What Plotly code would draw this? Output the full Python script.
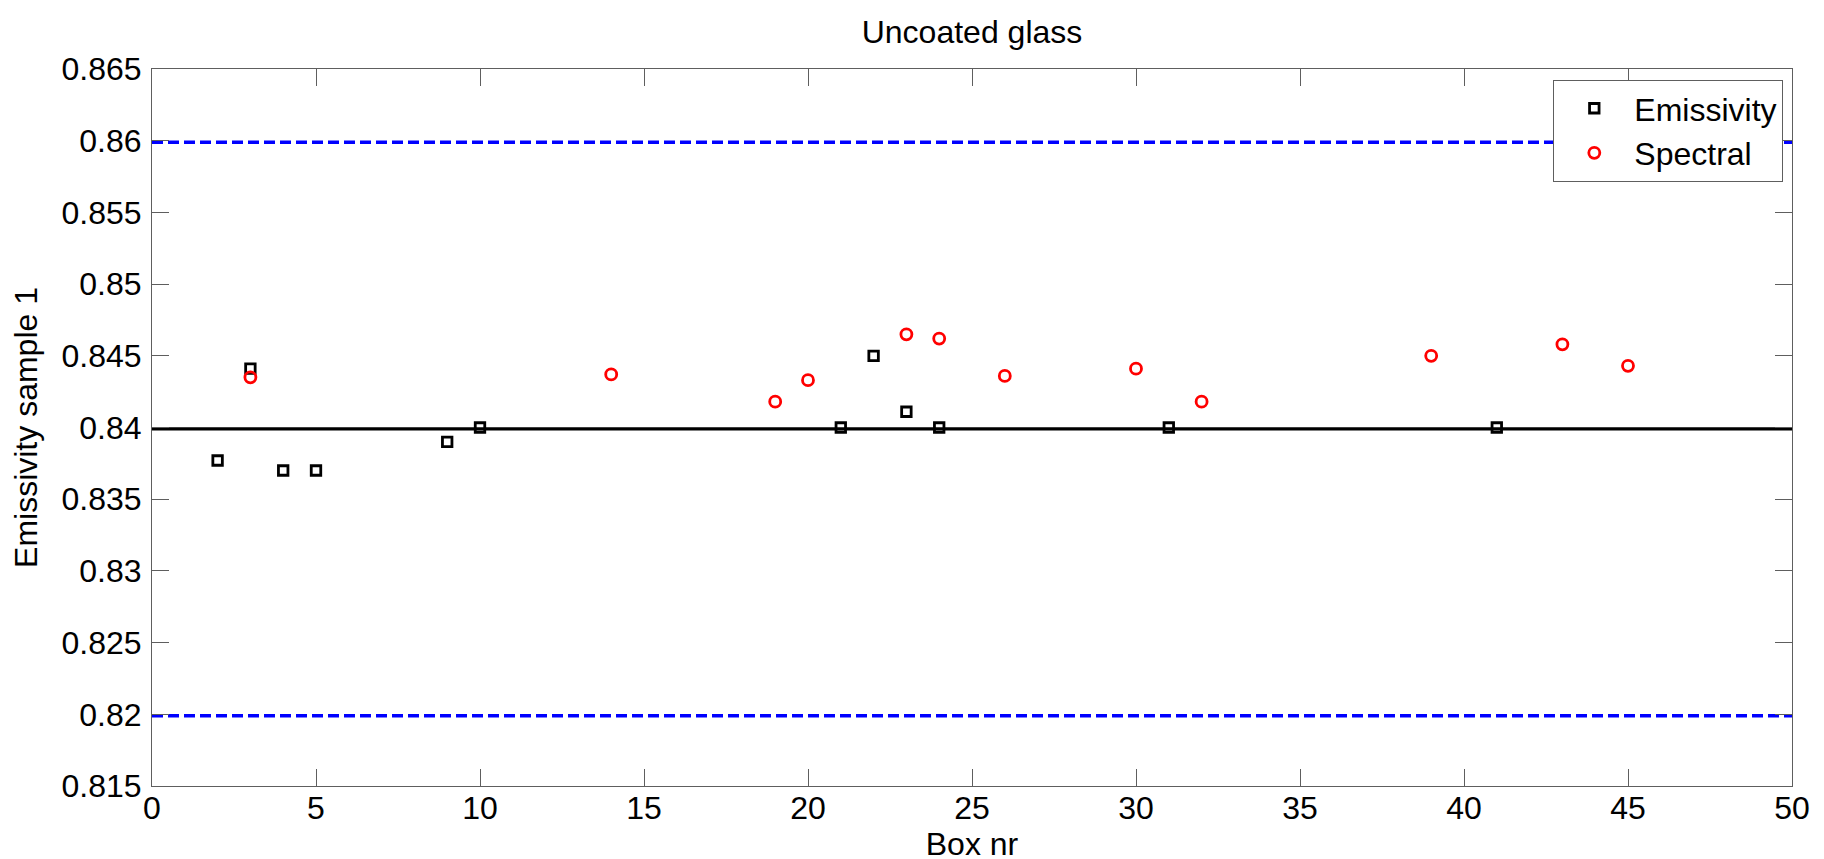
import plotly.graph_objects as go

# ---- data ----
emis_box = [2, 3, 4, 5, 9, 10, 21, 22, 23, 24, 31, 41]
emis_val = [0.8377, 0.8441, 0.8370, 0.8370, 0.8390, 0.8400, 0.8400, 0.8450, 0.8411, 0.8400, 0.8400, 0.8400]

spec_box = [3, 14, 19, 20, 23, 24, 26, 30, 32, 39, 43, 45]
spec_val = [0.8435, 0.8437, 0.8418, 0.8433, 0.8465, 0.8462, 0.8436, 0.8441, 0.8418, 0.8450, 0.8458, 0.8443]

line_x = [0, 50]
mean_level = 0.8399
upper_level = 0.8599
lower_level = 0.8199

x_tickvals = [0, 5, 10, 15, 20, 25, 30, 35, 40, 45, 50]
x_ticktext = ["0", "5", "10", "15", "20", "25", "30", "35", "40", "45", "50"]
y_tickvals = [0.815, 0.82, 0.825, 0.83, 0.835, 0.84, 0.845, 0.85, 0.855, 0.86, 0.865]
y_ticktext = ["0.815", "0.82", "0.825", "0.83", "0.835", "0.84", "0.845", "0.85", "0.855", "0.86", "0.865"]

FONT = "Liberation Sans, Arial, sans-serif"
AX = "#5e5e5e"

fig = go.Figure()

fig.add_trace(go.Scatter(x=line_x, y=[upper_level] * 2, mode="lines",
                         line=dict(color="#0000ff", width=3.5, dash="11px,5px"),
                         showlegend=False, hoverinfo="skip"))
fig.add_trace(go.Scatter(x=line_x, y=[lower_level] * 2, mode="lines",
                         line=dict(color="#0000ff", width=3.5, dash="11px,5px"),
                         showlegend=False, hoverinfo="skip"))
fig.add_trace(go.Scatter(x=line_x, y=[mean_level] * 2, mode="lines",
                         line=dict(color="#000000", width=3.2),
                         showlegend=False, hoverinfo="skip"))

fig.add_trace(go.Scatter(x=emis_box, y=emis_val, mode="markers", name="Emissivity",
                         marker=dict(symbol="square-open", size=9.5, color="#000000",
                                     line=dict(width=2.8, color="#000000"))))
fig.add_trace(go.Scatter(x=spec_box, y=spec_val, mode="markers", name="Spectral",
                         marker=dict(symbol="circle-open", size=11, color="#ff0000",
                                     line=dict(width=2.8, color="#ff0000"))))

fig.update_layout(
    width=1824, height=859,
    margin=dict(l=144, r=40, t=61, b=81, autoexpand=False),
    paper_bgcolor="white", plot_bgcolor="white",
    font=dict(family=FONT, size=32, color="black"),
    title=dict(text="Uncoated glass", x=0.5, xref="paper", xanchor="center",
               y=1 - 24 / 859, yref="container", yanchor="middle",
               font=dict(family=FONT, size=32, color="black")),
    showlegend=True,
    legend=dict(x=0.9947, y=0.9847, xanchor="right", yanchor="top",
                bgcolor="white", bordercolor=AX, borderwidth=1,
                font=dict(family=FONT, size=32, color="black"),
                itemwidth=70, tracegroupgap=0),
)

fig.update_xaxes(range=[0, 50], tickvals=x_tickvals, ticktext=x_ticktext,
                 showgrid=False, zeroline=False, showline=True, linecolor=AX, linewidth=1,
                 mirror="ticks", ticks="inside", ticklen=17, tickcolor=AX, tickwidth=1,
                 ticklabelstandoff=-6,
                 tickfont=dict(family=FONT, size=32, color="black"),
                 title=dict(text="Box nr", font=dict(family=FONT, size=32, color="black"), standoff=1))
fig.update_yaxes(range=[0.815, 0.865], tickvals=y_tickvals, ticktext=y_ticktext,
                 showgrid=False, zeroline=False, showline=True, linecolor=AX, linewidth=1,
                 mirror="ticks", ticks="inside", ticklen=17, tickcolor=AX, tickwidth=1,
                 ticklabelstandoff=3,
                 tickfont=dict(family=FONT, size=32, color="black"),
                 title=dict(text="Emissivity sample 1", font=dict(family=FONT, size=32, color="black"), standoff=16))

fig.write_html("out.html")
